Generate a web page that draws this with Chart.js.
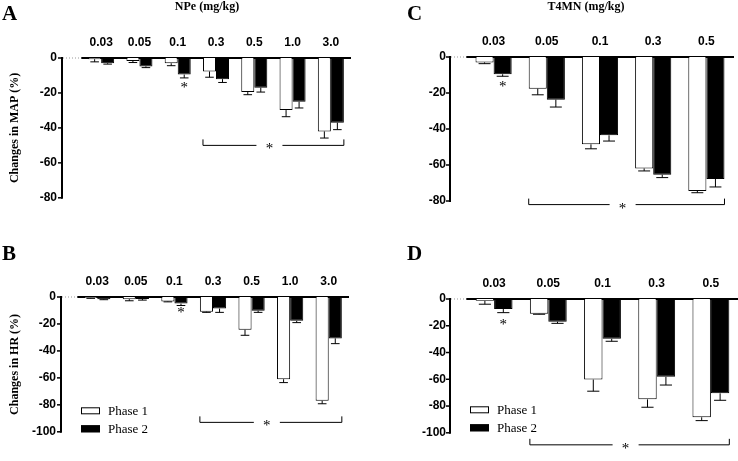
<!DOCTYPE html>
<html>
<head>
<meta charset="utf-8">
<script src="https://cdn.jsdelivr.net/npm/chart.js@4.4.1/dist/chart.umd.min.js"></script>
<style>
  html, body { margin: 0; padding: 0; background: #fff; }
  #wrap { position: relative; width: 738px; height: 461px; overflow: hidden; }
  #wrap canvas { position: absolute; }
</style>
</head>
<body>
<div id="wrap">
  <canvas id="cA" width="370" height="230" style="left:0;top:0"></canvas>
  <canvas id="cC" width="368" height="230" style="left:370px;top:0"></canvas>
  <canvas id="cB" width="370" height="231" style="left:0;top:230px"></canvas>
  <canvas id="cD" width="368" height="231" style="left:370px;top:230px"></canvas>
</div>
<script>
// doses (mg/kg)
const npeDoses = ['0.03', '0.05', '0.1', '0.3', '0.5', '1.0', '3.0'];
const t4mnDoses = ['0.03', '0.05', '0.1', '0.3', '0.5'];
const phaseNames = ['Phase 1', 'Phase 2'];

// A - changes in MAP (%), NPe
const mapNpe1 = [-0.7, -1.7, -3, -7.7, -19.5, -29.8, -42];
const mapNpe2 = [-3, -4.8, -9.5, -12.1, -17, -25, -37];
const mapNpeErr1 = [1.5, 0.9, 1.4, 3.3, 1.5, 3.8, 3.8];
const mapNpeErr2 = [0.5, 0.7, 1.9, 1.9, 2.5, 3.6, 4];

// C - changes in MAP (%), T4MN
const mapT4mn1 = [-3, -17.6, -48.5, -61.9, -74.4];
const mapT4mn2 = [-9.6, -23.7, -43.5, -65.4, -67.8];
const mapT4mnErr1 = [0.7, 3.4, 2.5, 1.4, 1.0];
const mapT4mnErr2 = [1.1, 4.1, 3.2, 1.6, 4.4];

// B - changes in HR (%), NPe
const hrNpe1 = [-0.7, -1.6, -3.3, -10.9, -24.3, -61, -77];
const hrNpe2 = [-1.6, -1.4, -4.9, -8.6, -10.2, -17.7, -30.7];
const hrNpeErr1 = [0.3, 1.2, 0.3, 0.5, 4.1, 2.5, 2.2];
const hrNpeErr2 = [0.4, 0.9, 1.4, 2.8, 1.2, 1.3, 3.9];

// D - changes in HR (%), T4MN
const hrT4mn1 = [-1.4, -11.1, -60.2, -75, -88.4];
const hrT4mn2 = [-7.5, -17, -29.8, -58.2, -70.5];
const hrT4mnErr1 = [2.5, 0.3, 8.7, 5.9, 2.5];
const hrT4mnErr2 = [2.7, 1.2, 1.8, 6.1, 5.2];

const SANS = 'Liberation Sans';
const SERIF = 'Liberation Serif';

function star(ctx, x, y) {
  ctx.font = `15px ${SERIF}`;
  ctx.textAlign = 'center'; ctx.textBaseline = 'alphabetic';
  ctx.fillText('*', x, y + 8);
}

// axis offset, error bars, brackets, stars, legend, labels
const decoPlugin = {
  id: 'deco',
  afterDatasetsDraw(chart) {
    const { ctx, scales: { y } } = chart;
    ctx.save();
    ctx.strokeStyle = '#000'; ctx.lineWidth = 1;
    chart.data.datasets.forEach((ds, di) => {
      chart.getDatasetMeta(di).data.forEach((bar, i) => {
        const yEnd = y.getPixelForValue(ds.data[i] - ds.err[i]);
        const half = bar.width * 0.33;
        ctx.beginPath();
        ctx.moveTo(bar.x, bar.y); ctx.lineTo(bar.x, yEnd);
        ctx.moveTo(bar.x - half, yEnd); ctx.lineTo(bar.x + half, yEnd);
        ctx.stroke();
      });
    });
    ctx.restore();
  },
  afterDraw(chart, args, o) {
    const { ctx, chartArea: a, scales: { y } } = chart;
    ctx.save();
    ctx.fillStyle = '#000'; ctx.strokeStyle = '#000';

    // y axis sits a little left of the bars
    const ax = a.left - o.gap;
    ctx.lineWidth = 2;
    ctx.beginPath(); ctx.moveTo(ax, a.top - 1); ctx.lineTo(ax, a.bottom + 1); ctx.stroke();
    ctx.lineWidth = 1.5;
    y.ticks.forEach((t, i) => {
      const py = y.getPixelForTick(i);
      ctx.beginPath(); ctx.moveTo(ax - 4, py); ctx.lineTo(ax, py); ctx.stroke();
    });
    const y0 = y.getPixelForValue(0);
    ctx.strokeStyle = '#999'; ctx.lineWidth = 1; ctx.setLineDash([1, 2]);
    ctx.beginPath(); ctx.moveTo(ax + 1, y0); ctx.lineTo(a.left, y0); ctx.stroke();
    ctx.setLineDash([]); ctx.strokeStyle = '#000';

    // significance bracket
    const b = o.bracket;
    const m0 = chart.getDatasetMeta(0).data[b.from];
    const m1 = chart.getDatasetMeta(1).data[b.to];
    const xl = m0.x - m0.width / 2, xr = m1.x + m1.width / 2;
    const by = y.getPixelForValue(b.value), xm = (xl + xr) / 2 - 4;
    ctx.lineWidth = 1;
    ctx.beginPath();
    ctx.moveTo(xl, by - 6); ctx.lineTo(xl, by); ctx.lineTo(xm - 13, by);
    ctx.moveTo(xm + 13, by); ctx.lineTo(xr, by); ctx.lineTo(xr, by - 6);
    ctx.stroke();
    star(ctx, xm, by);

    // star under a single phase 2 bar
    const sb = chart.getDatasetMeta(1).data[o.star.index];
    star(ctx, sb.x, y.getPixelForValue(o.star.value));

    // legend
    if (o.legend) {
      ctx.font = `13px ${SERIF}`; ctx.textAlign = 'left'; ctx.textBaseline = 'middle';
      chart.data.datasets.forEach((ds, di) => {
        const cy = a.bottom + o.legend[di];
        const lx = a.left + 3;
        ctx.fillStyle = ds.backgroundColor;
        ctx.fillRect(lx, cy - 3.5, 19, 7);
        ctx.strokeRect(lx + 0.5, cy - 3, 18, 6);
        ctx.fillStyle = '#000';
        ctx.fillText(ds.label, lx + 27, cy + 1);
      });
    }

    // panel letter and dose title
    ctx.textBaseline = 'middle';
    ctx.font = `bold 21px ${SERIF}`; ctx.textAlign = 'left';
    ctx.fillText(o.letter.text, o.letter.x, o.letter.y);
    ctx.font = `bold 12px ${SERIF}`; ctx.textAlign = 'center';
    ctx.fillText(o.title.text, o.title.x, o.title.y);
    ctx.restore();
  }
};

function makePanel(id, p) {
  return new Chart(document.getElementById(id), {
    type: 'bar',
    data: {
      labels: p.labels,
      datasets: [
        { label: phaseNames[0], data: p.v1, err: p.e1, backgroundColor: '#fff', borderColor: '#000', borderWidth: 1 },
        { label: phaseNames[1], data: p.v2, err: p.e2, backgroundColor: '#000', borderColor: '#000', borderWidth: 1 }
      ]
    },
    options: {
      responsive: false,
      animation: false,
      layout: { padding: p.pad },
      datasets: { bar: { categoryPercentage: 0.68, barPercentage: 1 } },
      plugins: { legend: { display: false }, tooltip: { enabled: false }, deco: p.deco },
      scales: {
        x: {
          position: 'top',
          grid: { display: false, drawTicks: false },
          border: { display: true, color: '#000', width: 2 },
          ticks: { color: '#000', padding: 8, font: { family: SANS, weight: 'bold', size: 12 } },
          afterFit: s => { s.height = 30; }
        },
        y: {
          min: p.min, max: 0,
          grid: { display: false, drawTicks: false },
          border: { display: false },
          ticks: { stepSize: 20, color: '#000', padding: p.tickPad, font: { family: SANS, weight: 'bold', size: 12 } },
          title: p.yTitle
            ? { display: true, text: p.yTitle, color: '#000', padding: { top: 8, bottom: 0 }, font: { family: SERIF, weight: 'bold', size: 12 } }
            : { display: false },
          afterFit: s => { s.width = p.yWidth; }
        }
      }
    },
    plugins: [decoPlugin]
  });
}

makePanel('cA', {
  labels: npeDoses, v1: mapNpe1, v2: mapNpe2, e1: mapNpeErr1, e2: mapNpeErr2,
  min: -80, yWidth: 82, tickPad: 25, yTitle: 'Changes in MAP (%)',
  pad: { left: 0, right: 20, top: 28, bottom: 27 },
  deco: { gap: 20, bracket: { from: 3, to: 6, value: -50 }, star: { index: 2, value: -15 },
    letter: { text: 'A', x: 2, y: 15 }, title: { text: 'NPe (mg/kg)', x: 207, y: 7 } }
});

makePanel('cC', {
  labels: t4mnDoses, v1: mapT4mn1, v2: mapT4mn2, e1: mapT4mnErr1, e2: mapT4mnErr2,
  min: -80, yWidth: 97, tickPad: 21, yTitle: null,
  pad: { left: 0, right: 5, top: 27, bottom: 29 },
  deco: { gap: 17, bracket: { from: 1, to: 4, value: -82 }, star: { index: 0, value: -14.5 },
    letter: { text: 'C', x: 37, y: 15 }, title: { text: 'T4MN (mg/kg)', x: 216, y: 7 } }
});

makePanel('cB', {
  labels: npeDoses, v1: hrNpe1, v2: hrNpe2, e1: hrNpeErr1, e2: hrNpeErr2,
  min: -100, yWidth: 78, tickPad: 22, yTitle: 'Changes in HR (%)',
  pad: { left: 0, right: 22, top: 37, bottom: 19 },
  deco: { gap: 17, bracket: { from: 3, to: 6, value: -93 }, star: { index: 2, value: -9 },
    legend: [-21, -3],
    letter: { text: 'B', x: 2, y: 25 }, title: { text: '', x: 0, y: 0 } }
});

makePanel('cD', {
  labels: t4mnDoses, v1: hrT4mn1, v2: hrT4mn2, e1: hrT4mnErr1, e2: hrT4mnErr2,
  min: -100, yWidth: 97, tickPad: 21, yTitle: null,
  pad: { left: 0, right: 0, top: 39, bottom: 15 },
  deco: { gap: 17, bracket: { from: 1, to: 4, value: -109 }, star: { index: 0, value: -16.5 },
    legend: [-23, -5],
    letter: { text: 'D', x: 37, y: 25 }, title: { text: '', x: 0, y: 0 } }
});
</script>
</body>
</html>
